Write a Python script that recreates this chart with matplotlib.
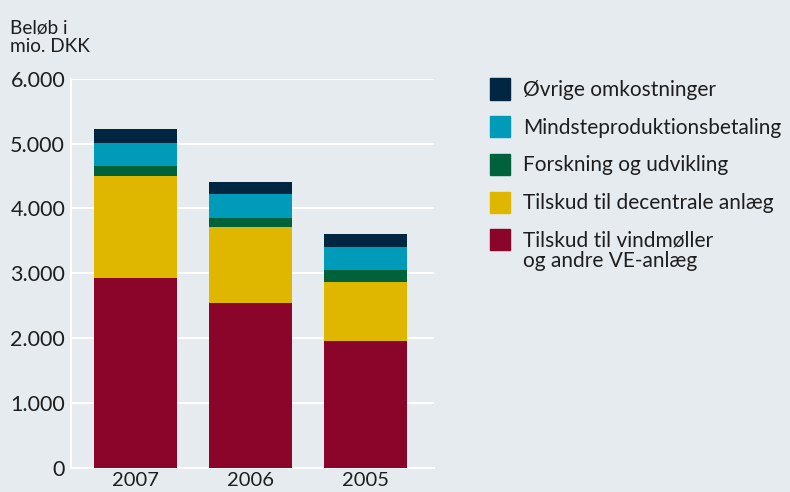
import matplotlib.pyplot as plt
from matplotlib.patches import Rectangle

# Data (mio. DKK)
years = ["2007", "2006", "2005"]
vind = [2930, 2540, 1955]
decentral = [1575, 1175, 910]
forskning = [150, 140, 185]
mindste = [355, 370, 355]
oevrige = [215, 185, 200]

series = [
    ("Tilskud til vindmøller\nog andre VE-anlæg", vind, "#8a0529"),
    ("Tilskud til decentrale anlæg", decentral, "#e0b700"),
    ("Forskning og udvikling", forskning, "#00623a"),
    ("Mindsteproduktionsbetaling", mindste, "#009bb8"),
    ("Øvrige omkostninger", oevrige, "#002642"),
]

bg = "#e6ebef"
txt = "#1e1e1e"
plt.rcParams['font.family'] = ['Lato', 'DejaVu Sans']

W, H = 790, 492
fig = plt.figure(figsize=(W / 100, H / 100), dpi=100, facecolor=bg)
ax = fig.add_axes([0.0895, 0.0494, 0.4595, 0.7907])
ax.set_facecolor(bg)

x = list(range(len(years)))
bottom = [0] * len(years)
for label, vals, color in series:
    ax.bar(x, vals, width=0.72, bottom=bottom, color=color, zorder=3)
    bottom = [b + v for b, v in zip(bottom, vals)]

ax.set_ylim(0, 6000)
ax.set_xlim(-0.563, 2.593)
ax.set_yticks(range(0, 6001, 1000))
ax.set_yticklabels(["0", "1.000", "2.000", "3.000", "4.000", "5.000", "6.000"])
ax.set_xticks(x)
ax.set_xticklabels(years)
ax.tick_params(length=0, colors=txt)
ax.tick_params(axis="y", pad=4, labelsize=15.5)
ax.tick_params(axis="x", pad=3, labelsize=14.5)
ax.grid(axis="y", color="white", linewidth=1.5, zorder=0)
for s in ["top", "right"]:
    ax.spines[s].set_visible(False)
for s in ["left", "bottom"]:
    ax.spines[s].set_color("white")
    ax.spines[s].set_linewidth(1.5)

fig.text(10 / W, 1 - 20 / H, "Beløb i\nmio. DKK", ha="left", va="top",
         fontsize=13.7, color=txt, linespacing=1.1)

# legend drawn by hand: square aligned with first text line
for i, (label, vals, color) in enumerate(reversed(series)):
    yc = 89 + i * 37.7
    fig.add_artist(Rectangle((490 / W, 1 - (yc + 10.5) / H), 20 / W, 21 / H,
                             transform=fig.transFigure, color=color))
    for j, line in enumerate(label.split("\n")):
        fig.text(523 / W, 1 - (yc + 7 + j * 20) / H, line, ha="left",
                 va="baseline", fontsize=15, color=txt)

fig.savefig("out.png", dpi=100, facecolor=bg)
